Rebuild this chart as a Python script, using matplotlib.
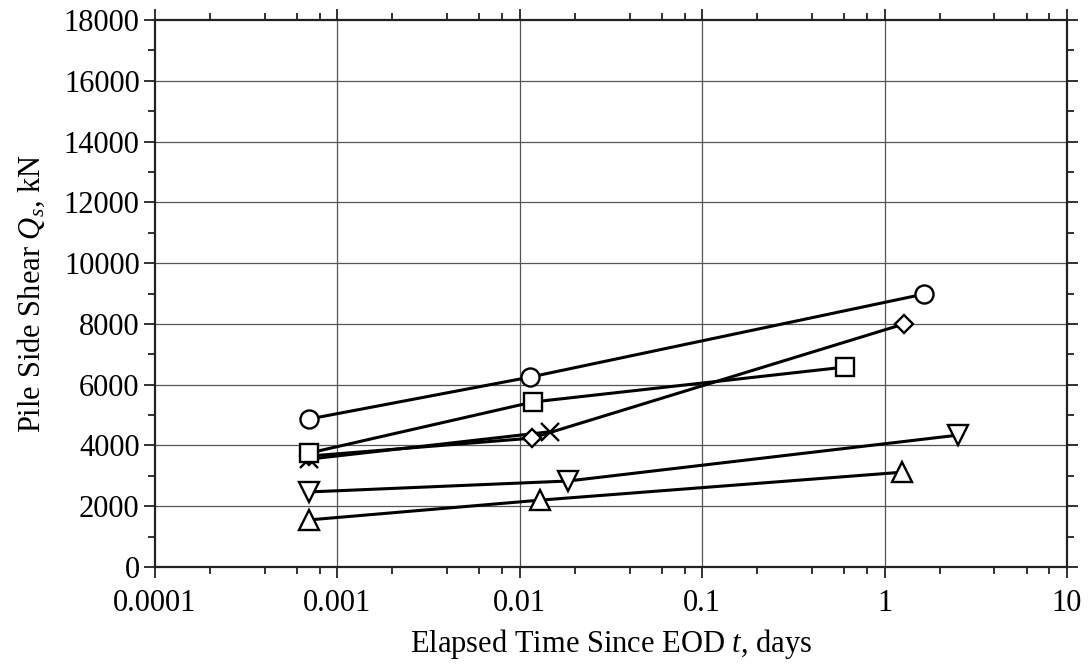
import matplotlib
matplotlib.use("Agg")
import matplotlib.pyplot as plt
from matplotlib.ticker import FixedLocator, NullFormatter

plt.rcParams['font.family'] = ['Liberation Serif', 'DejaVu Serif']
plt.rcParams['mathtext.fontset'] = 'custom'
plt.rcParams['mathtext.rm'] = 'Liberation Serif'
plt.rcParams['mathtext.it'] = 'Liberation Serif:italic'

# Data (elapsed time in days, side shear in kN)
x_cross = [0.0007, 0.0146]
y_cross = [3550, 4450]
x_diamond = [0.0007, 0.0116, 1.28]
y_diamond = [3650, 4240, 8000]
x_square = [0.0007, 0.0118, 0.607]
y_square = [3750, 5430, 6580]
x_circle = [0.0007, 0.0114, 1.64]
y_circle = [4870, 6250, 8980]
x_down = [0.0007, 0.0184, 2.53]
y_down = [2470, 2830, 4340]
x_up = [0.0007, 0.0129, 1.25]
y_up = [1550, 2200, 3120]

x_ticks = [0.0001, 0.001, 0.01, 0.1, 1, 10]
x_ticklabels = ['0.0001', '0.001', '0.01', '0.1', '1', '10']
y_ticks = list(range(0, 18001, 2000))

fig = plt.figure(figsize=(10.89, 6.68), dpi=100)
ax = fig.add_axes([0.1423, 0.1512, 0.8375, 0.8188])
ax.set_xscale('log')
ax.set_xlim(1e-4, 10)
ax.set_ylim(0, 18000)

for xv in [0.001, 0.01, 0.1, 1]:
    ax.axvline(xv, color='#555555', lw=0.9, zorder=1)
for yv in y_ticks[1:-1]:
    ax.axhline(yv, color='#555555', lw=0.9, zorder=1)

lw = 2.2
common = dict(color='black', lw=lw, mfc='white', mec='black', mew=1.7, zorder=3)
ax.plot(x_cross, y_cross, marker='x', ms=13, **common)
ax.plot(x_diamond, y_diamond, marker='D', ms=9, **common)
ax.plot(x_down, y_down, marker='v', ms=14, **common)
ax.plot(x_up, y_up, marker='^', ms=14, **common)
ax.plot(x_square, y_square, marker='s', ms=13, **common)
ax.plot(x_circle, y_circle, marker='o', ms=13, **common)

ax.set_xticks(x_ticks)
ax.set_xticklabels(x_ticklabels)
minors = []
for d in [1e-4, 1e-3, 1e-2, 1e-1, 1]:
    for m in [2, 4, 6, 8]:
        minors.append(d * m)
ax.xaxis.set_minor_locator(FixedLocator(minors))
ax.xaxis.set_minor_formatter(NullFormatter())
ax.set_yticks(y_ticks)
ax.yaxis.set_minor_locator(FixedLocator(list(range(1000, 18000, 2000))))

ax.tick_params(which='both', direction='out', top=True, right=True, width=1.3,
               labelsize=22, labeltop=False, labelright=False, color='#222222')
ax.tick_params(which='major', length=8)
ax.tick_params(axis='y', which='major', pad=3)
ax.tick_params(axis='x', which='major', pad=8)
ax.tick_params(which='minor', length=5)
for s in ax.spines.values():
    s.set_linewidth(1.6)
    s.set_color('#222222')

ax.set_ylabel(r'Pile Side Shear $Q_s$, kN', fontsize=22, labelpad=12)
ax.set_xlabel(r'Elapsed Time Since EOD $t$, days', fontsize=22, labelpad=6)

fig.savefig('out.png', dpi=100)
